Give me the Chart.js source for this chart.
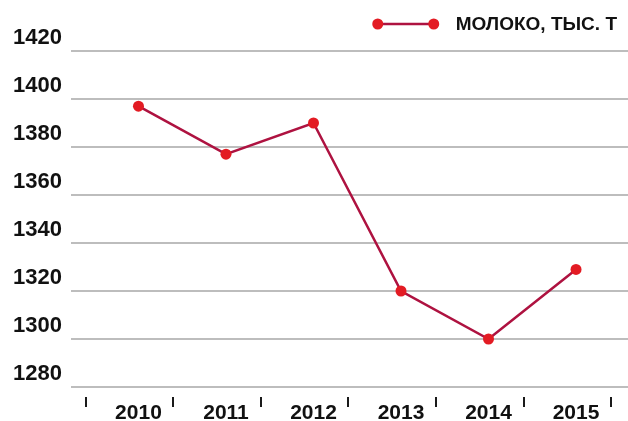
<!DOCTYPE html>
<html>
<head>
<meta charset="utf-8">
<script src="https://cdn.jsdelivr.net/npm/chart.js@4.4.0/dist/chart.umd.min.js"></script>
<style>
  html, body { margin: 0; padding: 0; background: #fff; overflow: hidden; }
  #wrap { width: 628px; height: 421px; position: relative; }
</style>
</head>
<body>
<div id="wrap"><canvas id="milkChart"></canvas></div>
<script>
// Данные
const years = [2010, 2011, 2012, 2013, 2014, 2015];
const milk = [1397, 1377, 1390, 1320, 1300, 1329];
const seriesName = 'МОЛОКО, ТЫС. Т';
const yTicks = [1280, 1300, 1320, 1340, 1360, 1380, 1400, 1420];

const FONT = '"Liberation Sans Narrow", "Arial Narrow", "Liberation Sans", Arial, sans-serif';
const LINE_COLOR = '#AE1240';
const DOT_COLOR = '#E31B23';
const TEXT_COLOR = '#111111';

// Легенда: линия с двумя точками + подпись
const legendPlugin = {
    id: 'milkLegend',
    afterDraw(chart) {
        const ctx = chart.ctx;
        ctx.save();
        ctx.font = 'bold 19px ' + FONT;
        ctx.fillStyle = TEXT_COLOR;
        ctx.textBaseline = 'middle';
        const w = ctx.measureText(seriesName).width;
        const right = chart.width - 11;
        const tx = right - w;
        const cy = 25;
        ctx.fillText(seriesName, tx, cy);

        const x1 = tx - 78, x2 = tx - 22;
        ctx.strokeStyle = LINE_COLOR;
        ctx.lineWidth = 2.5;
        ctx.beginPath();
        ctx.moveTo(x1, cy - 1);
        ctx.lineTo(x2, cy - 1);
        ctx.stroke();
        ctx.fillStyle = DOT_COLOR;
        [x1, x2].forEach(x => {
            ctx.beginPath();
            ctx.arc(x, cy - 1, 5.5, 0, Math.PI * 2);
            ctx.fill();
        });
        ctx.restore();
    }
};

// Короткие засечки между годами под осью
const tickMarksPlugin = {
    id: 'tickMarks',
    afterDraw(chart) {
        const ctx = chart.ctx;
        const xs = chart.scales.x;
        const bottom = chart.chartArea.bottom;
        const edges = years.concat([years[years.length - 1] + 1]);
        ctx.save();
        ctx.strokeStyle = '#1a1a1a';
        ctx.lineWidth = 2;
        edges.forEach(v => {
            const px = Math.round(xs.getPixelForValue(v - 0.6));
            ctx.beginPath();
            ctx.moveTo(px, bottom + 10);
            ctx.lineTo(px, bottom + 20);
            ctx.stroke();
        });
        ctx.restore();
    }
};

const ctx = document.getElementById('milkChart').getContext('2d');
new Chart(ctx, {
    type: 'line',
    data: {
        datasets: [{
            label: seriesName,
            data: years.map((y, i) => ({ x: y, y: milk[i] })),
            borderColor: LINE_COLOR,
            borderWidth: 2.5,
            backgroundColor: DOT_COLOR,
            pointBackgroundColor: DOT_COLOR,
            pointBorderWidth: 0,
            pointRadius: 5.5,
            tension: 0,
            fill: false
        }]
    },
    options: {
        responsive: true,
        maintainAspectRatio: false,
        animation: false,
        layout: { autoPadding: false, padding: { top: 51, left: 13, right: 0, bottom: 0 } },
        plugins: {
            legend: { display: false },
            tooltip: { enabled: false }
        },
        scales: {
            x: {
                type: 'linear',
                min: 2009.229,
                max: 2015.594,
                afterBuildTicks(scale) {
                    scale.ticks = years.map(v => ({ value: v }));
                },
                afterFit(scale) {
                    scale.height = 34;
                    scale.paddingLeft = 0;
                    scale.paddingRight = 0;
                },
                grid: { display: false, drawTicks: false },
                border: { display: false },
                ticks: {
                    autoSkip: false,
                    maxRotation: 0,
                    padding: 14,
                    color: TEXT_COLOR,
                    font: { family: FONT, size: 21, weight: 'bold' },
                    callback: v => String(v)
                }
            },
            y: {
                min: yTicks[0],
                max: yTicks[yTicks.length - 1],
                afterBuildTicks(scale) {
                    scale.ticks = yTicks.map(v => ({ value: v }));
                },
                afterFit(scale) { scale.width = 58; },
                grid: { color: '#BDBDBD', lineWidth: 2, drawTicks: false },
                border: { display: false },
                ticks: {
                    crossAlign: 'far',
                    padding: 0,
                    labelOffset: -13,
                    color: TEXT_COLOR,
                    font: { family: FONT, size: 22, weight: 'bold' },
                    callback: v => String(v)
                }
            }
        }
    },
    plugins: [legendPlugin, tickMarksPlugin]
});
</script>
</body>
</html>
